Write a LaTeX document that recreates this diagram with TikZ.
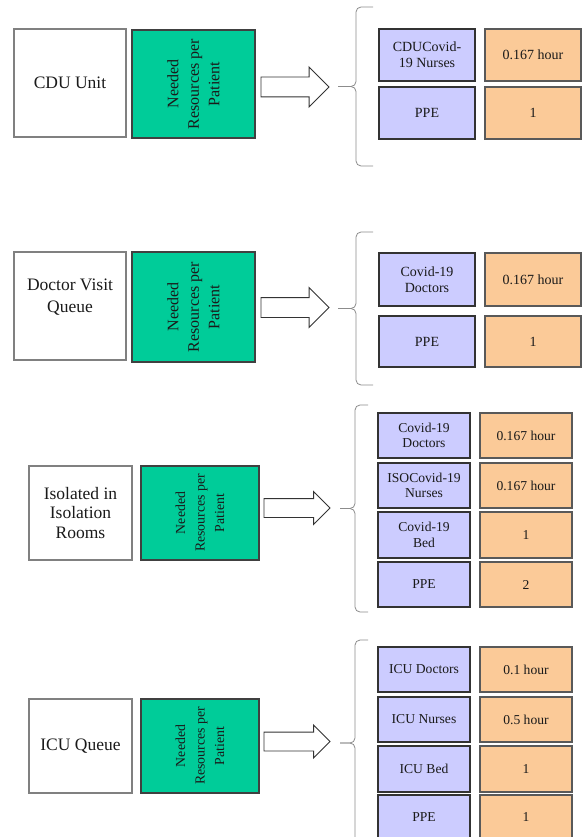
\documentclass[tikz,border=0pt]{standalone}
\usepackage{fontspec}
\setmainfont{Liberation Serif}
\usetikzlibrary{shapes.arrows}
\definecolor{needgreen}{HTML}{00CC99}
\definecolor{reslav}{HTML}{CCCCFF}
\definecolor{valpeach}{HTML}{FBCA98}
\definecolor{txt}{HTML}{1A1A1A}
\tikzset{
 box/.style={anchor=north west, inner sep=0pt, outer sep=0pt, align=center, text=txt},
 srcbox/.style={box, draw=black!50, line width=1.2pt, fill=white, font=\fontsize{17.5}{21}\selectfont},
 srctxt/.style={align=center, text=txt, inner sep=0pt, font=\fontsize{17.5}{21.5}\selectfont},
 needbox/.style={box, draw=black!75, line width=1.1pt, fill=needgreen},
 needtxt/.style={rotate=90, align=center, text=txt, inner sep=0pt},
 needbig/.style={needtxt, font=\fontsize{16}{20.5}\selectfont},
 needsmall/.style={needtxt, font=\fontsize{13.8}{19.5}\selectfont},
 resbox/.style={box, draw=black!80, line width=1.1pt, fill=reslav},
 valbox/.style={box, draw=black!65, line width=1.1pt, fill=valpeach},
 resbig/.style={font=\fontsize{14}{16}\selectfont, minimum width=96pt},
 ressmall/.style={font=\fontsize{13.6}{15.5}\selectfont, minimum width=92pt, minimum height=45pt},
 bigarrow/.style={single arrow, draw=black!80, line width=0.9pt, fill=white, inner xsep=0pt, inner ysep=9.5pt, outer sep=0pt, anchor=tail, single arrow head extend=10pt, minimum height=68pt},
 smallarrow/.style={bigarrow, inner ysep=9pt, single arrow head extend=7pt, minimum height=66pt},
 bracelines/.style={draw=black!45, line width=0.8pt, rounded corners=5pt},
}
\newcommand\resbrace[6]{% name, end x, spine x, tip x, top, bottom
 \coordinate (#1top) at (#2,#5);
 \coordinate (#1bot) at (#2,#6);
 \coordinate (#1tip) at (#4,{(#5+#6)/2});
 \draw[bracelines] (#1top) -- (#3,#5) -- (#3,{(#5+#6)/2}) -- (#1tip);
 \draw[bracelines] (#1bot) -- (#3,#6) -- (#3,{(#5+#6)/2}) -- (#1tip);
}
\begin{document}
\begin{tikzpicture}[x=1pt,y=-1pt]
\clip (0,0) rectangle (583,837);
\fill[white] (0,0) rectangle (583,837);

% ---------- Section 1 ----------
\node[srcbox, minimum width=112pt, minimum height=108pt] (s1) at (14,29) {CDU Unit};
\node[needbox, minimum width=123pt, minimum height=108pt] (g1) at (132,30) {};
\node[needbig] (g1t) at (g1.center) {Needed\\Resources per\\Patient};
\node[bigarrow] (a1) at (261,87) {};
\resbrace{b1}{373}{356}{338}{7}{166}
\node[resbox, resbig, minimum height=52pt] (r11) at (379,29) {CDUCovid-\\19 Nurses};
\node[valbox, resbig, minimum height=52pt] (v11) at (485,29) {0.167 hour};
\node[resbox, resbig, minimum height=52pt] (r12) at (379,87) {PPE};
\node[valbox, resbig, minimum height=52pt] (v12) at (485,87) {1};

% ---------- Section 2 ----------
\node[srcbox, minimum width=112pt, minimum height=108pt] (s2) at (14,252) {};
\node[srctxt] (s2t) at ([yshift=9pt]s2.center) {Doctor Visit\\Queue};
\node[needbox, minimum width=123pt, minimum height=110pt] (g2) at (132,252) {};
\node[needbig] (g2t) at (g2.center) {Needed\\Resources per\\Patient};
\node[bigarrow] (a2) at (261,307.5) {};
\resbrace{b2}{373}{356}{338}{232}{385}
\node[resbox, resbig, minimum height=53pt] (r21) at (379,253) {Covid-19\\Doctors};
\node[valbox, resbig, minimum height=53pt] (v21) at (485,253) {0.167 hour};
\node[resbox, resbig, minimum height=51pt] (r22) at (379,316) {PPE};
\node[valbox, resbig, minimum height=51pt] (v22) at (485,316) {1};

% ---------- Section 3 ----------
\node[srcbox, minimum width=103pt, minimum height=94pt, font=\fontsize{17.5}{19.5}\selectfont] (s3) at (29,466) {Isolated in\\Isolation\\Rooms};
\node[needbox, minimum width=118pt, minimum height=94pt] (g3) at (141,466) {};
\node[needsmall] (g3t) at (g3.center) {Needed\\Resources per\\Patient};
\node[smallarrow] (a3) at (264,508) {};
\resbrace{b3}{368}{355}{340}{405}{612}
\node[resbox, ressmall] (r31) at (378,413) {Covid-19\\Doctors};
\node[valbox, ressmall] (v31) at (480,413) {0.167 hour};
\node[resbox, ressmall] (r32) at (378,463) {ISOCovid-19\\Nurses};
\node[valbox, ressmall] (v32) at (480,463) {0.167 hour};
\node[resbox, ressmall, minimum height=46pt] (r33) at (378,512) {Covid-19\\Bed};
\node[valbox, ressmall, minimum height=46pt] (v33) at (480,512) {1};
\node[resbox, ressmall] (r34) at (378,562) {PPE};
\node[valbox, ressmall] (v34) at (480,562) {2};

% ---------- Section 4 ----------
\node[srcbox, minimum width=103pt, minimum height=94pt] (s4) at (29,699) {ICU Queue};
\node[needbox, minimum width=118pt, minimum height=94pt] (g4) at (141,699) {};
\node[needsmall] (g4t) at (g4.center) {Needed\\Resources per\\Patient};
\node[smallarrow] (a4) at (264,741.5) {};
\resbrace{b4}{368}{355}{340}{640}{846}
\node[resbox, ressmall] (r41) at (378,647) {ICU Doctors};
\node[valbox, ressmall] (v41) at (480,647) {0.1 hour};
\node[resbox, ressmall] (r42) at (378,697) {ICU Nurses};
\node[valbox, ressmall] (v42) at (480,697) {0.5 hour};
\node[resbox, ressmall, minimum height=46pt] (r43) at (378,746) {ICU Bed};
\node[valbox, ressmall, minimum height=46pt] (v43) at (480,746) {1};
\node[resbox, ressmall] (r44) at (378,795) {PPE};
\node[valbox, ressmall] (v44) at (480,795) {1};
\end{tikzpicture}
\end{document}
